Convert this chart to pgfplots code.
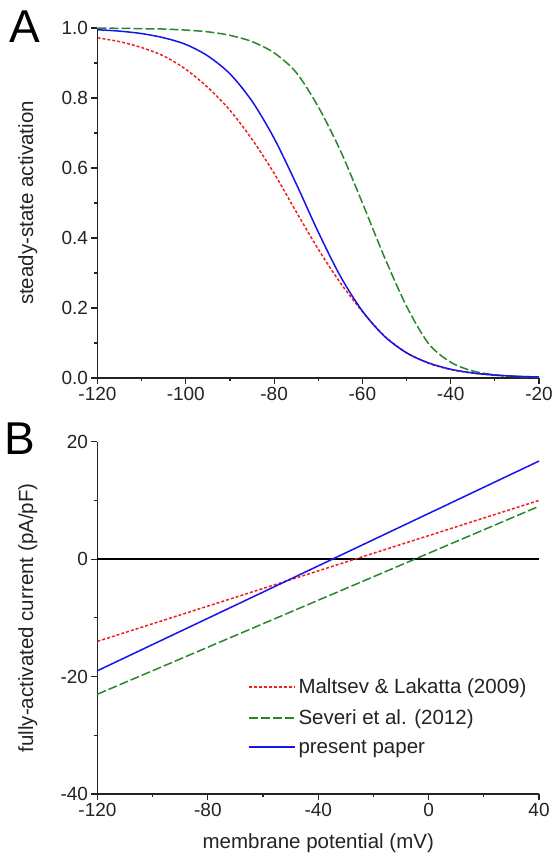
\documentclass[border=0pt]{standalone}
\usepackage{pgfplots}
\pgfplotsset{compat=1.18}
\usepackage{fontspec}
\setmainfont{Liberation Sans}
\definecolor{cred}{RGB}{240,30,30}
\definecolor{cgreen}{RGB}{40,135,40}
\definecolor{cblue}{RGB}{20,20,235}
\definecolor{ctext}{RGB}{35,35,35}
\pgfplotsset{
  common/.style={
    scale only axis,
    width=441.5pt,
    axis x line*=bottom,
    axis y line*=left,
    axis line style={line width=1.3pt, color=ctext},
    tick align=outside,
    major tick length=6pt,
    minor tick length=3.5pt,
    every tick/.style={line width=1.2pt, color=ctext},
    minor tick num=1,
    tick label style={font=\fontsize{19}{21}\selectfont, color=ctext},
    /pgf/number format/assume math mode=true,
    label style={font=\fontsize{20.5}{23}\selectfont, color=ctext},
    clip=false,
  },
  mylegend/.style={
    legend image code/.code={\draw[##1, line width=1.8pt] (0pt,0pt) -- (46pt,0pt);},
  }
}
\begin{document}
\begin{tikzpicture}
\useasboundingbox (0,0) rectangle (552pt,861pt);
% Panel A
\begin{axis}[common,
  at={(97.5pt,483pt)}, anchor=south west,
  height=350pt,
  xmin=-120, xmax=-20, ymin=0, ymax=1,
  xtick={-120,-100,-80,-60,-40,-20},
  ytick={0,0.2,0.4,0.6,0.8,1.0},
  yticklabel style={/pgf/number format/.cd, fixed, fixed zerofill, precision=1},
  ylabel={steady-state activation},
  ylabel style={at={(axis description cs:-0.158,0.5)}, anchor=center, rotate=0},
]
\addplot[cred, line width=1.5pt, dash pattern=on 3pt off 2pt, smooth] coordinates {
(-120,0.972) (-115,0.961) (-110,0.944) (-105,0.920) (-100,0.882) (-95,0.830)
(-90,0.765) (-85,0.682) (-80,0.585) (-75,0.475) (-70,0.368) (-65,0.272)
(-60,0.190) (-55,0.120) (-50,0.072) (-45,0.042) (-40,0.024) (-35,0.014)
(-30,0.008) (-25,0.0045) (-20,0.0027)};
\addplot[cgreen, line width=1.5pt, dash pattern=on 9pt off 3pt, smooth] coordinates {
(-120,0.9995) (-115,0.9991) (-110,0.998) (-105,0.997) (-100,0.994) (-95,0.989)
(-90,0.979) (-85,0.961) (-80,0.929) (-75,0.873) (-70,0.775) (-65,0.650)
(-60,0.500) (-55,0.345) (-50,0.205) (-45,0.098) (-40,0.045) (-35,0.020)
(-30,0.009) (-25,0.004) (-20,0.002)};
\addplot[cblue, line width=1.5pt, smooth] coordinates {
(-120,0.995) (-115,0.991) (-110,0.984) (-105,0.972) (-100,0.953) (-95,0.920)
(-90,0.869) (-85,0.791) (-80,0.685) (-75,0.555) (-70,0.417) (-65,0.291)
(-60,0.191) (-55,0.119) (-50,0.072) (-45,0.043) (-40,0.025) (-35,0.0144)
(-30,0.0083) (-25,0.0048) (-20,0.0028)};
\node[font=\fontsize{46}{50}\selectfont, anchor=base west, inner sep=0pt] at (axis description cs:-0.200,0.958) {A};
\end{axis}
% Panel B
\begin{axis}[common, mylegend,
  at={(97.5pt,67pt)}, anchor=south west,
  height=352.3pt,
  xmin=-120, xmax=40, ymin=-40, ymax=20,
  xtick={-120,-80,-40,0,40},
  ytick={-40,-20,0,20},
  ylabel={fully-activated current (pA/pF)},
  ylabel style={at={(axis description cs:-0.158,0.5)}, anchor=center, rotate=0},
  xlabel={membrane potential (mV)},
  xlabel style={at={(axis description cs:0.5,-0.139)}, anchor=center},
  legend style={draw=none, fill=none, at={(axis description cs:0.333,0.338)}, anchor=north west,
    font=\fontsize{20.5}{23}\selectfont, text=ctext, row sep=10pt,
    /tikz/every odd column/.append style={column sep=1pt}},
  legend cell align=left,
]
\addplot[black, line width=1.3pt, forget plot] coordinates {(-120,0) (40,0)};
\addplot[cred, line width=1.5pt, dash pattern=on 3pt off 2pt] coordinates {(-120,-14) (40,10)};
\addlegendentry{Maltsev \& Lakatta (2009)}
\addplot[cgreen, line width=1.5pt, dash pattern=on 9pt off 3pt] coordinates {(-120,-23) (40,9)};
\addlegendentry{Severi et al. (2012)}
\addplot[cblue, line width=1.5pt] coordinates {(-120,-19) (40,16.7)};
\addlegendentry{present paper}
\node[font=\fontsize{46}{50}\selectfont, anchor=base west, inner sep=0pt] at (axis description cs:-0.212,0.963) {B};
\end{axis}
\end{tikzpicture}
\end{document}
